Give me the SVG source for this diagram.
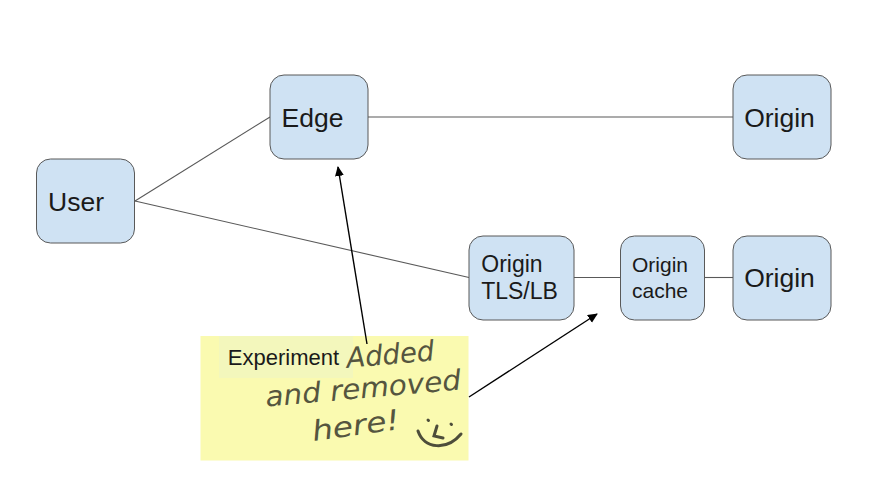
<svg xmlns="http://www.w3.org/2000/svg" width="889" height="499" viewBox="0 0 889 499">
<style>
.box{fill:#cfe2f3;stroke:#595959;stroke-width:1}
.lbl{font-family:"Liberation Sans",Arial,sans-serif;fill:#1a1a1a;text-anchor:middle}
.big{font-size:26.500px}
.mid{font-size:23px}
.sm{font-size:21px}
.wire{stroke:#595959;stroke-width:1.1;fill:none}
.note{stroke:#000;stroke-width:1.4;fill:none;marker-end:url(#ah)}
.hand{font-family:"DejaVu Sans",sans-serif;font-style:oblique;fill:#55553f;font-size:28px;text-anchor:middle}
</style>
<defs>
<marker id="ah" markerUnits="userSpaceOnUse" markerWidth="11" markerHeight="10" refX="9" refY="4.500" orient="auto"><path d="M0 0L10 4.500L0 9Z" fill="#000"/></marker>
</defs>
<rect width="889" height="499" fill="#fff"/>
<g id="connectors">
<path class="wire" d="M135 201L270 117"/>
<path class="wire" d="M135 201L469 277.500"/>
<path class="wire" d="M368 117H733"/>
<path class="wire" d="M574 277.500H621"/>
<path class="wire" d="M705 277.500H733"/>
</g>
<g id="sticky-note">
<rect x="200.500" y="336" width="268" height="124.500" fill="#fafab0"/>
<rect x="219" y="336" width="134" height="42" fill="#f3f7bc"/>
<text x="283.500" y="364.500" font-family="'Liberation Sans',Arial,sans-serif" font-size="22" fill="#1a1a1a" text-anchor="middle">Experiment</text>
<text class="hand" x="391" y="364" transform="rotate(-5 391 364)" textLength="88" lengthAdjust="spacingAndGlyphs">Added</text>
<text class="hand" x="364" y="398" transform="rotate(-5 364 398)" textLength="196" lengthAdjust="spacingAndGlyphs">and removed</text>
<text class="hand" x="357" y="435" transform="rotate(-8 357 435)" textLength="88" lengthAdjust="spacingAndGlyphs">here!</text>
<g fill="none" stroke="#4d4d3a" stroke-width="3" stroke-linecap="round">
<path d="M418 431C424 449 447 451 461 434"/>
<path d="M437 426L434 436L443 438"/>
<path d="M428 420L428.500 420.500"/>
<path d="M451 424L451.500 424.500"/>
</g>
</g>
<g id="annotation-arrows">
<path class="note" d="M367 344L338 167"/>
<path class="note" d="M469 397L597 314"/>
</g>
<g id="user"><rect class="box" x="36.500" y="159" width="98" height="84" rx="14"/><text class="lbl big" x="76" y="211">User</text></g>
<g id="edge"><rect class="box" x="270" y="75" width="98" height="84" rx="14"/><text class="lbl big" x="312.500" y="127">Edge</text></g>
<g id="origin-top"><rect class="box" x="733" y="75" width="98" height="84" rx="14"/><text class="lbl big" x="779.500" y="126.500">Origin</text></g>
<g id="origin-tls-lb"><rect class="box" x="469" y="236" width="105" height="84" rx="14"/><text class="lbl mid" x="512" y="271.500">Origin</text><text class="lbl mid" x="519.500" y="299">TLS/LB</text></g>
<g id="origin-cache"><rect class="box" x="620.500" y="236" width="84" height="84" rx="14"/><text class="lbl sm" x="660" y="272">Origin</text><text class="lbl sm" x="660" y="298">cache</text></g>
<g id="origin-bottom"><rect class="box" x="733" y="236" width="98" height="84" rx="14"/><text class="lbl big" x="779.500" y="286.500">Origin</text></g>
</svg>
